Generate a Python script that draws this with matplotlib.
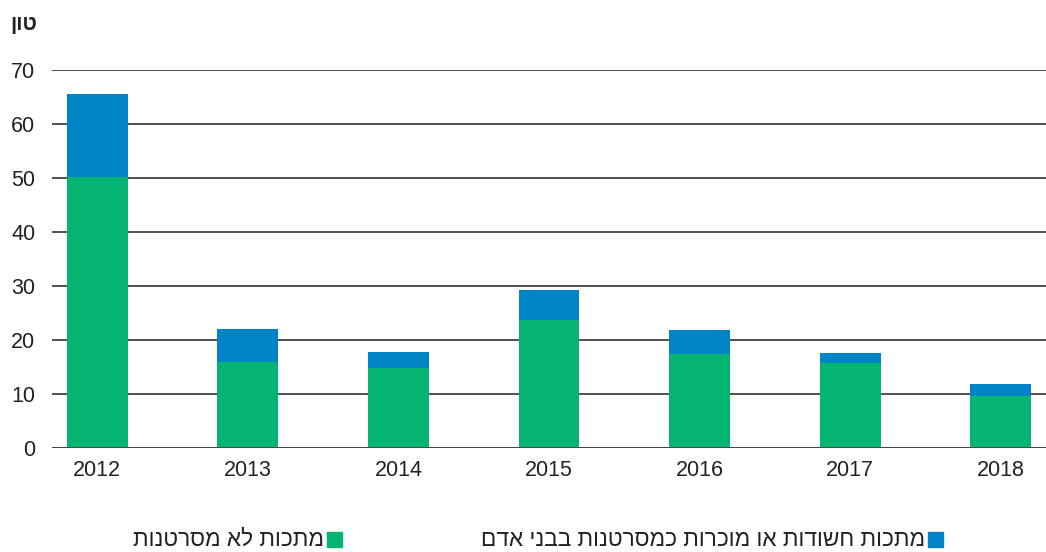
import matplotlib
matplotlib.use("Agg")
import matplotlib.pyplot as plt
from matplotlib.patches import Rectangle
import numpy as np

plt.rcParams['font.family'] = ['Liberation Sans', 'DejaVu Sans']

years = ["2012", "2013", "2014", "2015", "2016", "2017", "2018"]
non_carc = [50.2, 15.9, 14.8, 23.7, 17.4, 15.7, 9.6]
total = [65.6, 22.0, 17.8, 29.3, 21.9, 17.6, 11.9]
suspected = [t - n for t, n in zip(total, non_carc)]

green = "#04b473"
blue = "#0084c8"

label_green = "מתכות לא מסרטנות"
label_blue = "מתכות חשודות או מוכרות כמסרטנות בבני אדם"
unit = "טון"


def rtl(s):
    # matplotlib has no bidi, flip Hebrew by hand
    return s[::-1]


fig = plt.figure(figsize=(10.46, 5.52), dpi=100)
ax = fig.add_axes([52 / 1046, 104 / 552, 1 - 52 / 1046, 378 / 552])

x = np.arange(len(years))
ax.bar(x, non_carc, width=0.405, color=green, zorder=3)
ax.bar(x, suspected, bottom=non_carc, width=0.405, color=blue, zorder=3)

ax.set_xlim(-0.3, 6.3)
ax.set_ylim(0, 70)
ax.set_yticks(np.arange(0, 71, 10))
ax.set_xticks(x)
ax.set_xticklabels(years)
ax.yaxis.grid(True, color="#333333", linewidth=1.2, zorder=0)
ax.axhline(0, color="#444444", linewidth=2, zorder=4)
for s in ax.spines.values():
    s.set_visible(False)
ax.tick_params(length=0, labelsize=15.5, colors="#222222")
ax.tick_params(axis="y", pad=12)
ax.tick_params(axis="x", pad=9)

fig.text(10 / 1046, 1 - 25 / 552, rtl(unit), fontsize=15, fontweight="bold",
         ha="left", va="center", color="#222222")

# legend, right-to-left
leg_y = 1 - 539 / 552
sq_w, sq_h = 15 / 1046, 15 / 552
for sq_x, col, lab in [(928 / 1046, blue, label_blue), (327 / 1046, green, label_green)]:
    fig.patches.append(Rectangle((sq_x, leg_y - sq_h / 2), sq_w, sq_h, color=col,
                                 transform=fig.transFigure, figure=fig))
    fig.text(sq_x - 3 / 1046, leg_y, rtl(lab), fontsize=16.3, ha="right", va="center",
             color="#222222")

fig.savefig("out.png", dpi=100)
